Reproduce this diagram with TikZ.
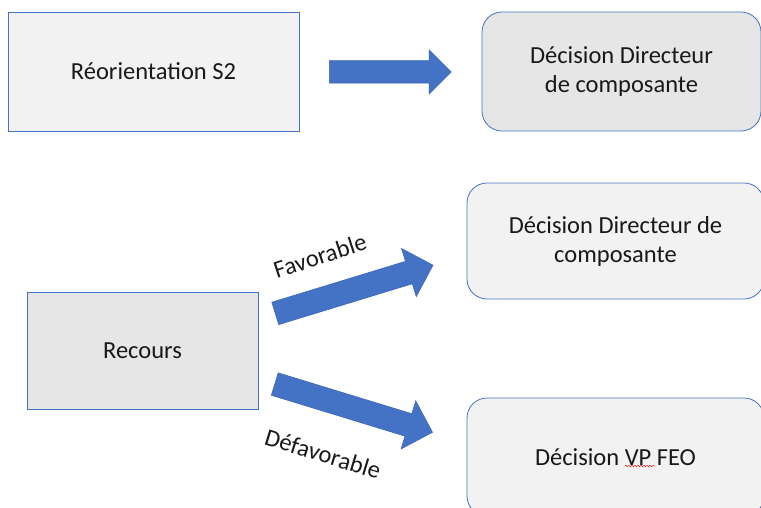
\documentclass[tikz,border=0pt]{standalone}
\usepackage{fontspec}
\setmainfont{Carlito}
\usepackage{tikz}
\usetikzlibrary{shapes.arrows, positioning, decorations.pathmorphing}
\definecolor{boxline}{HTML}{4472C4}
\definecolor{arrowblue}{HTML}{4472C4}
\definecolor{arrowline}{HTML}{3A65B5}
\definecolor{lightbox}{HTML}{F2F2F2}
\definecolor{darkbox}{HTML}{E6E6E6}
\tikzset {
    x=1pt, y=1pt,
    every node/.style={font=\fontsize{24.5}{29}\selectfont, text=black!90},
    box/.style={draw=boxline, line width=0.8pt, align=center, inner sep=0pt},
    roundbox/.style={box, rounded corners=20pt},
    bigarrow/.style={single arrow, draw=arrowline, line width=0.5pt, fill=arrowblue,
        inner xsep=0pt, single arrow tip angle=90, anchor=tail},
    arrowlabel/.style={inner sep=0pt}
}

\begin{document}
\begin{tikzpicture}
                \useasboundingbox (0,0) rectangle (761,508);

                \node[box, fill=lightbox, minimum width=291pt, minimum height=119pt] (reo) at (153.5,436.5) {Réorientation S2};
                \node[roundbox, fill=darkbox, minimum width=279pt, minimum height=119pt] (decdir) at (621.5,436.5) {Décision Directeur\\de composante};
                \node[box, fill=darkbox, minimum width=231pt, minimum height=117pt] (recours) at (142.5,157.5) {Recours};
                \node[roundbox, fill=lightbox, minimum width=297pt, minimum height=116pt] (decfav) at (615.5,267) {Décision Directeur de\\composante};
                \node[roundbox, fill=lightbox, minimum width=297pt, minimum height=118pt] (decvp) at (615.5,51) {Décision VP FEO};

                % block arrows
                \node[bigarrow, minimum height=122pt, inner ysep=11pt, single arrow head extend=11pt] (reoarrow) at (329,436) {};
                \node[bigarrow, rotate=17, minimum height=165pt, inner ysep=11.5pt, single arrow head extend=13.5pt] (favarrow) at (275,194.5) {};
                \node[bigarrow, rotate=-17, minimum height=165pt, inner ysep=11.5pt, single arrow head extend=13.5pt] (defarrow) at (274.5,124) {};

                \node[arrowlabel, rotate=18] (favtext) at (320,252) {Favorable};
                \node[arrowlabel, rotate=-17] (deftext) at (323,54) {Défavorable};

                % spell check mark
                \coordinate (vpleft) at (625,42);
                \coordinate (vpright) at (655,42);
                \draw[red!85, line width=0.5pt, decorate, decoration={snake, segment length=3pt, amplitude=0.8pt}] (vpleft) -- (vpright);
            \end{tikzpicture}
\end{document}
